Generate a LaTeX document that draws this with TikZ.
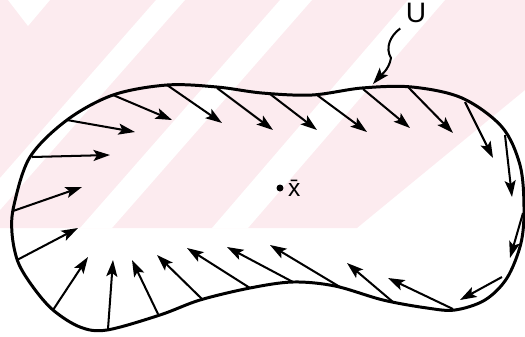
\documentclass[tikz,border=0pt]{standalone}
\usepackage{fontspec}
\setmainfont{Liberation Sans}
\usepackage{xcolor}
\usepackage{tikz}
\usetikzlibrary{arrows.meta,positioning}
\definecolor{wmpink}{RGB}{252,235,239}
\tikzset{
  boundary/.style={draw=black, line width=1.7pt, line join=round},
  vecarrow/.style={-{Stealth[length=3.3mm, width=2.2mm, inset=0.7mm]}, line width=1.15pt, draw=black},
  dotnode/.style={circle, fill=black, inner sep=0pt, minimum size=0.14cm},
  labelnode/.style={inner sep=3pt, font=\fontsize{16}{16}\selectfont}
}

\begin{document}
\begin{tikzpicture}[x=0.02cm, y=-0.02cm]
    \useasboundingbox (0,0) rectangle (525,336);
    % faint striped background
    \fill[wmpink] (0,0) -- (525,0) -- (525,90) -- (357,228) -- (0,228) -- cycle;
    \fill[white] (156,0) -- (185,0) -- (0,210) -- (0,178) -- cycle;
    \fill[white] (280,0) -- (312,0) -- (112,228) -- (80,228) -- cycle;
    \fill[white] (408,0) -- (445,0) -- (248,228) -- (212,228) -- cycle;
    \fill[white] (8,0) -- (50,0) -- (28,26) -- cycle;
    % the region U
    \draw[boundary] plot[smooth cycle, tension=0.55] coordinates {
      (167,85) (217,87) (262,93) (312,95) (362,88) (412,87) (462,98)
      (502,127) (520,165) (524,207) (521,243) (507,278) (485,300)
      (455,310) (427,308) (383,300) (335,286) (293,282) (250,288)
      (200,300) (160,315) (107,330) (80,327) (53,310) (33,287)
      (18,262) (12,233) (14,205) (30,157) (67,120) (113,95)};
    % vectors on the boundary
    \foreach \from/\to in {
      {(113,95)}/{(172,120)}, {(167,85)}/{(222,123)}, {(217,88)}/{(273,130)},
      {(270,94)}/{(317,130)}, {(317,95)}/{(367,132)}, {(363,89)}/{(410,128)},
      {(408,87)}/{(453,133)}, {(465,102)}/{(493,158)}, {(505,135)}/{(512,197)},
      {(67,120)}/{(135,132)}, {(32,157)}/{(110,155)}, {(13,211)}/{(82,187)},
      {(17,260)}/{(78,228)}, {(53,310)}/{(88,257)}, {(108,329)}/{(113,260)},
      {(158,314)}/{(132,260)}, {(202,299)}/{(157,255)}, {(250,288)}/{(187,248)},
      {(293,282)}/{(227,247)}, {(340,287)}/{(270,245)}, {(393,302)}/{(347,263)},
      {(453,309)}/{(388,278)}, {(502,277)}/{(460,300)}, {(523,213)}/{(510,258)}}
      \draw[vecarrow] \from -- \to;
    % centre point and label
    \node[dotnode] (xbar) at (280,188) {};
    \node[right=0.08cm of xbar, inner sep=0pt, font=\fontsize{14}{14}\selectfont] (xbarlabel) {\={x}};
    \node[labelnode] (ulabel) at (416,13) {U};
    \coordinate (utip) at (373,84);
    \draw[vecarrow] (ulabel.south west) .. controls (390,36) and (385,48) .. (391,58)
      .. controls (389,70) and (380,76) .. (utip);
\end{tikzpicture}
\end{document}
